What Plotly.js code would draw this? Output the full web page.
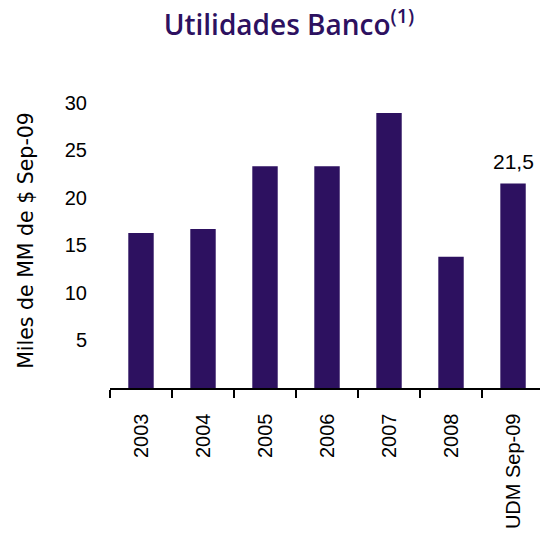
<!DOCTYPE html>
<html>
<head>
<meta charset="utf-8">
<script src="https://cdn.plot.ly/plotly-3.0.1.min.js"></script>
<style>html,body{margin:0;padding:0;background:#fff;}#chart{width:540px;height:537px;}</style>
</head>
<body>
<div id="chart"></div>
<script>
const categories = ["2003", "2004", "2005", "2006", "2007", "2008", "UDM Sep-09"];
const values = [16.3, 16.7, 23.3, 23.3, 28.9, 13.8, 21.5];
const labelIndex = 6;
const labelText = "21,5";
const yTicks = [5, 10, 15, 20, 25, 30];

const barColor = "#2d1160";

const trace = {
  type: "bar",
  x: categories,
  y: values,
  width: 0.41,
  marker: {color: barColor},
  hoverinfo: "x+y"
};

const layout = {
  width: 540,
  height: 537,
  margin: {l: 110, r: 0, t: 93, b: 149},
  paper_bgcolor: "#ffffff",
  plot_bgcolor: "rgba(0,0,0,0)",
  showlegend: false,
  font: {family: "Liberation Sans, Arial, sans-serif", size: 19, color: "#000"},
  title: {
    text: "Utilidades Banco<sup>(1)</sup>",
    font: {family: "Open Sans, Noto Sans, sans-serif", size: 28, weight: 600, color: barColor},
    xref: "container", x: 0.535, xanchor: "center",
    yref: "container", y: 1 - 25/537, yanchor: "middle"
  },
  xaxis: {
    type: "category",
    range: [-0.5, 6.435],
    showline: true, linecolor: "#000", linewidth: 1.5,
    ticks: "outside", tickson: "boundaries", ticklen: 8, tickwidth: 1.5, tickcolor: "#000",
    tickangle: -90,
    ticklabelstandoff: 16,
    tickfont: {family: "Liberation Sans, Arial, sans-serif", size: 20, color: "#000"},
    showgrid: false, zeroline: false, fixedrange: true
  },
  yaxis: {
    range: [0, 31],
    tickvals: yTicks,
    ticktext: yTicks.map(String),
    showline: false, showgrid: false, zeroline: false,
    ticks: "",
    ticklabelstandoff: 22,
    tickfont: {family: "Liberation Sans, Arial, sans-serif", size: 20, color: "#000"},
    title: {
      text: "Miles de MM de $ Sep-09",
      font: {family: "DejaVu Sans, sans-serif", size: 20.5, color: "#000"},
      standoff: 25
    },
    fixedrange: true
  },
  annotations: [{
    x: categories[labelIndex], y: values[labelIndex],
    xref: "x", yref: "y",
    text: labelText, showarrow: false,
    yanchor: "bottom", yshift: 8,
    font: {family: "Liberation Sans, Arial, sans-serif", size: 21, color: "#000"}
  }]
};

Plotly.newPlot("chart", [trace], layout, {displayModeBar: false, staticPlot: true});
</script>
</body>
</html>
